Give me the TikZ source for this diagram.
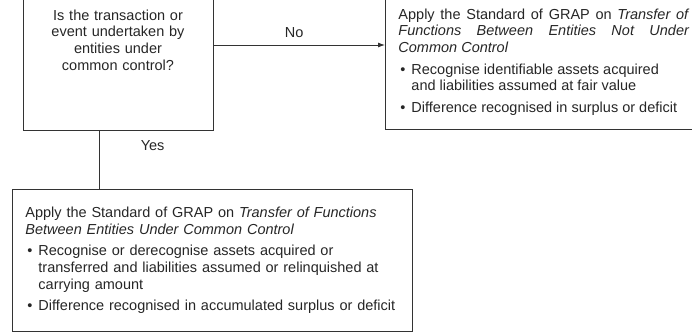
\documentclass[tikz,border=0pt]{standalone}
\usepackage{fontspec}
\setmainfont{Liberation Sans}
\usetikzlibrary{arrows.meta}

% bullet paragraph inside a box
\newcommand{\bulletpar}[1]{\par\vspace{5pt}\noindent\hangindent=13pt\hangafter=1\hspace*{2pt}\makebox[11pt][l]{\textbullet}#1}

\begin{document}
\begin{tikzpicture}
[x=1pt,y=-1pt,
 box/.style={draw=black!80, line width=0.9pt, text=black!85, font=\fontsize{14.5}{16.7}\selectfont},
 link/.style={draw=black!80, line width=0.9pt},
 lbl/.style={text=black!85, font=\fontsize{14.5}{16.7}\selectfont},
]
\useasboundingbox (0,0) rectangle (692,332);

\node[box, minimum width=190pt, minimum height=180pt, text width=170pt, align=center] (quest) at (118,40)
  {Is the transaction or\\event undertaken by\\entities under\\common control?};

\node[box, anchor=south west, text width=291pt, inner xsep=13pt, inner ysep=14pt, align=justify] (notucc) at (385,130)
  {\noindent Apply the Standard of GRAP on \textit{Transfer of}\linebreak
   \textit{Functions Between Entities Not Under}\linebreak
   \textit{Common Control}
   \bulletpar{Recognise identifiable assets acquired\newline and liabilities assumed at fair value}
   \bulletpar{Difference recognised in surplus or deficit}};

\node[box, anchor=north west, minimum width=400pt, minimum height=142pt, text width=374pt, inner xsep=13pt, align=left] (ucc) at (12,189)
  {\noindent Apply the Standard of GRAP on \textit{Transfer of Functions}\newline
   \textit{Between Entities Under Common Control}
   \bulletpar{Recognise or derecognise assets acquired or\newline transferred and liabilities assumed or relinquished at\newline carrying amount}
   \bulletpar{Difference recognised in accumulated surplus or deficit}};

\coordinate (yesx) at (99,0);
\draw[link, -{Latex[length=7pt,width=5pt]}] ([yshift=-5pt]quest.east) -- ([yshift=-5pt]quest.east -| notucc.west)
  node[lbl, pos=0.47, above=4pt] {No};
\draw[link] (quest.south -| yesx) -- (ucc.north -| yesx)
  node[lbl, pos=0.25, right=38pt] {Yes};
\end{tikzpicture}
\end{document}
